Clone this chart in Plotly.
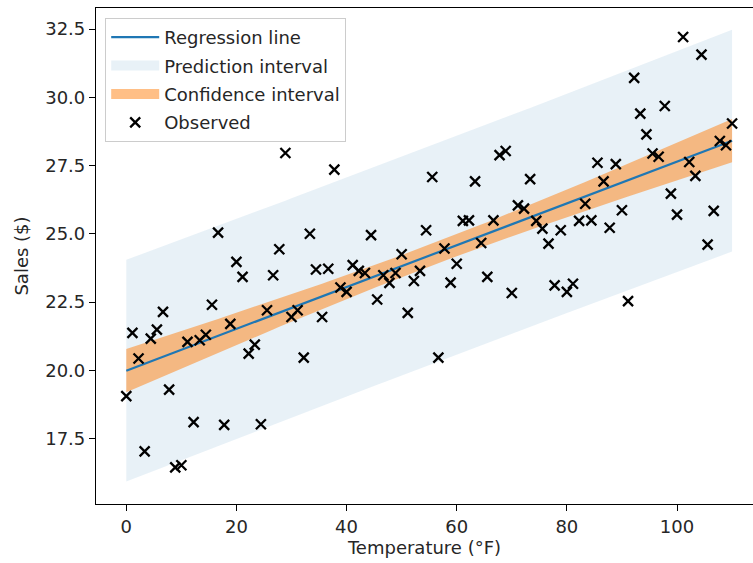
import numpy as np
import plotly.graph_objects as go

# Observed data (100 evenly spaced temperatures from 0 to 110 °F)
temperature = [round(i * 110 / 99, 4) for i in range(100)]
sales = [
    19.05, 21.37, 20.43, 17.03, 21.16, 21.49, 22.14, 19.29, 16.44, 16.52,
    21.04, 18.10, 21.10, 21.30, 22.40, 25.04, 18.00, 21.70, 23.97, 23.42,
    20.61, 20.94, 18.02, 22.20, 23.48, 24.43, 27.96, 21.95, 22.20, 20.46,
    25.00, 23.69, 21.95, 23.72, 27.35, 23.03, 22.87, 23.85, 23.64, 23.56,
    24.95, 22.59, 23.48, 23.20, 23.56, 24.25, 22.10, 23.27, 23.64, 25.13,
    27.08, 20.46, 24.46, 23.21, 23.90, 25.47, 25.49, 26.92, 24.66, 23.42,
    25.49, 27.88, 28.03, 22.83, 26.04, 25.92, 27.00, 25.47, 25.19, 24.64,
    23.11, 25.13, 22.87, 23.17, 25.47, 26.10, 25.49, 27.60, 26.92, 25.22,
    27.55, 25.86, 22.53, 30.71, 29.40, 28.64, 27.94, 27.82, 29.68, 26.47,
    25.70, 32.21, 27.63, 27.12, 31.56, 24.60, 25.84, 28.40, 28.24, 29.04,
]
x_ticks = [0, 20, 40, 60, 80, 100]
y_ticks = [17.5, 20.0, 22.5, 25.0, 27.5, 30.0, 32.5]
T_CRIT = 1.9845  # t(0.975, df=98)

# Ordinary least squares fit with confidence and prediction intervals
x = np.array(temperature)
y = np.array(sales)
n = len(x)
slope, intercept = np.polyfit(x, y, 1)
fit = intercept + slope * x
resid = y - fit
s = np.sqrt(np.sum(resid ** 2) / (n - 2))
sxx = np.sum((x - x.mean()) ** 2)
se_mean = s * np.sqrt(1 / n + (x - x.mean()) ** 2 / sxx)
se_pred = s * np.sqrt(1 + 1 / n + (x - x.mean()) ** 2 / sxx)
ci_lo, ci_hi = fit - T_CRIT * se_mean, fit + T_CRIT * se_mean
pi_lo, pi_hi = fit - T_CRIT * se_pred, fit + T_CRIT * se_pred

FONT = "DejaVu Sans"
FS = 18
PI_COLOR = "rgba(31,119,180,0.1)"
CI_COLOR = "rgba(255,127,14,0.5)"
fig = go.Figure()

fig.add_trace(go.Scatter(
    x=np.concatenate([x, x[::-1]]), y=np.concatenate([pi_lo, pi_hi[::-1]]),
    fill="toself", fillcolor=PI_COLOR, mode="lines",
    line=dict(width=0, color="rgba(0,0,0,0)"), showlegend=False, hoverinfo="skip"))
fig.add_trace(go.Scatter(
    x=np.concatenate([x, x[::-1]]), y=np.concatenate([ci_lo, ci_hi[::-1]]),
    fill="toself", fillcolor=CI_COLOR, mode="lines",
    line=dict(width=0, color="rgba(0,0,0,0)"), showlegend=False, hoverinfo="skip"))
fig.add_trace(go.Scatter(
    x=x, y=fit, mode="lines", line=dict(color="#1f77b4", width=2.2),
    name="Regression line", legendrank=1, legendgroup="a"))
fig.add_trace(go.Scatter(
    x=temperature, y=sales, mode="markers", name="Observed",
    marker=dict(symbol="x-thin", size=10, color="black",
                line=dict(color="black", width=2.3)),
    legendrank=4, legendgroup="d"))
# legend swatches for the two bands
fig.add_trace(go.Scatter(
    x=[None], y=[None], mode="lines", line=dict(color=PI_COLOR, width=12),
    name="Prediction interval", legendrank=2, legendgroup="b"))
fig.add_trace(go.Scatter(
    x=[None], y=[None], mode="lines", line=dict(color=CI_COLOR, width=12),
    name="Confidence interval", legendrank=3, legendgroup="c"))

axis_common = dict(
    showline=True, linecolor="black", linewidth=1.2, mirror=True,
    ticks="outside", ticklen=6, tickcolor="black", tickwidth=1.2,
    showgrid=False, zeroline=False,
    tickfont=dict(family=FONT, size=FS, color="#262626"),
)
fig.update_xaxes(range=[-5.5, 113.8], tickvals=x_ticks,
                 title=dict(text="Temperature (°F)", font=dict(family=FONT, size=FS, color="#262626"), standoff=5),
                 **axis_common)
fig.update_yaxes(range=[15.1, 33.27], tickvals=y_ticks, tickformat=".1f",
                 title=dict(text="Sales ($)", font=dict(family=FONT, size=FS, color="#262626"), standoff=11),
                 **axis_common)

fig.update_layout(
    width=753, height=563,
    margin=dict(l=96, r=0, t=8, b=59),
    paper_bgcolor="white", plot_bgcolor="white",
    font=dict(family=FONT, size=FS, color="#262626"),
    showlegend=True,
    legend=dict(x=0.014, y=0.98, xanchor="left", yanchor="top",
                bgcolor="rgba(255,255,255,0.8)", bordercolor="#cccccc", borderwidth=1,
                font=dict(family=FONT, size=FS, color="#262626"),
                traceorder="grouped", tracegroupgap=2, itemwidth=48),
)

fig.write_html("out.html")
